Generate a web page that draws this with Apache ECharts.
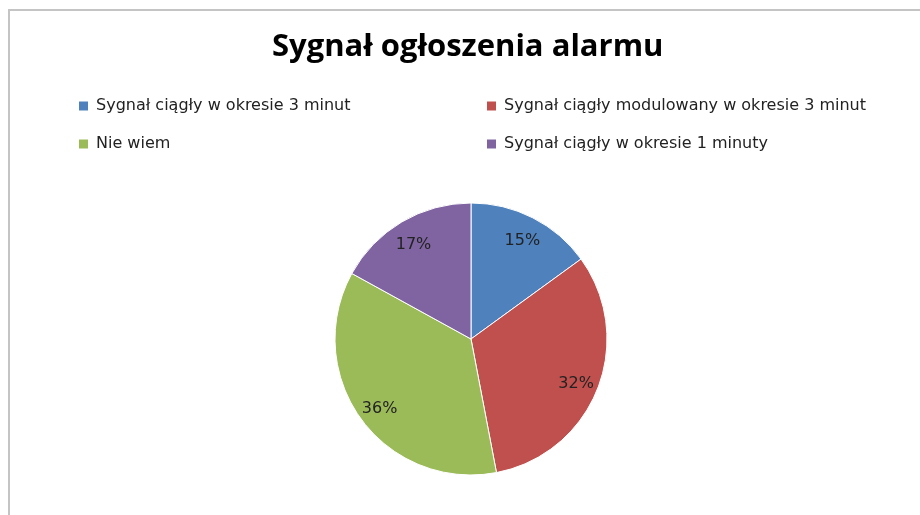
<!DOCTYPE html>
<html lang="pl">
  <head>
    <meta charset="UTF-8" />
    <title>Sygnał ogłoszenia alarmu</title>
    <script src="https://cdn.jsdelivr.net/npm/echarts@6/dist/echarts.min.js"></script>
    <style>
      html, body { margin: 0; padding: 0; background: #fff; }
      #frame {
        position: absolute; left: 8px; top: 9px; width: 930px; height: 530px;
        border-left: 2px solid #c4c4c4; border-top: 2px solid #c4c4c4;
      }
      #chart { position: absolute; left: 0; top: 0; width: 920px; height: 515px; }
    </style>
  </head>
  <body>
    <div id="frame"></div>
    <div id="chart"></div>
    <script>
      const categories = [
        'Sygnał ciągły w okresie 3 minut',
        'Sygnał ciągły modulowany w okresie 3 minut',
        'Nie wiem',
        'Sygnał ciągły w okresie 1 minuty'
      ];
      const values = [15, 32, 36, 17];
      const colors = ['#4F81BD', '#C0504D', '#9BBB59', '#8064A2'];

      const pieData = categories.map(function (name, i) {
        return { name: name, value: values[i], itemStyle: { color: colors[i] } };
      });

      const legendBase = {
        orient: 'vertical',
        top: 98,
        padding: 0,
        itemGap: 22,
        itemWidth: 11,
        itemHeight: 11,
        icon: 'rect',
        selectedMode: false,
        textStyle: { fontFamily: 'DejaVu Sans', fontSize: 16, color: '#222', padding: [0, 0, 0, 2] }
      };

      const mCharts = echarts.init(document.getElementById('chart'));
      const option = {
        animation: false,
        title: {
          text: 'Sygnał ogłoszenia alarmu',
          left: 272,
          top: 32,
          padding: 0,
          textStyle: { fontFamily: 'Open Sans', fontWeight: 'bold', fontSize: 31, color: '#000' }
        },
        legend: [
          Object.assign({ left: 77, data: [categories[0], categories[2]] }, legendBase),
          Object.assign({ left: 485, data: [categories[1], categories[3]] }, legendBase)
        ],
        series: [
          {
            type: 'pie',
            center: [471, 339],
            radius: 136,
            startAngle: 90,
            clockwise: true,
            data: pieData,
            label: { show: false },
            labelLine: { show: false },
            itemStyle: { borderColor: '#fff', borderWidth: 1 },
            emphasis: { disabled: true }
          },
          {
            // label ring only, keeps percentages near Excel's placement
            type: 'pie',
            center: [471, 342],
            radius: [84, 136],
            startAngle: 90,
            clockwise: true,
            silent: true,
            data: values.map(function (v, i) {
              return { name: categories[i], value: v, itemStyle: { color: 'transparent' } };
            }),
            label: {
              show: true,
              position: 'inside',
              formatter: '{c}%',
              fontFamily: 'DejaVu Sans',
              fontSize: 16,
              color: '#222'
            },
            labelLine: { show: false },
            emphasis: { disabled: true }
          }
        ]
      };
      mCharts.setOption(option);
    </script>
  </body>
</html>
